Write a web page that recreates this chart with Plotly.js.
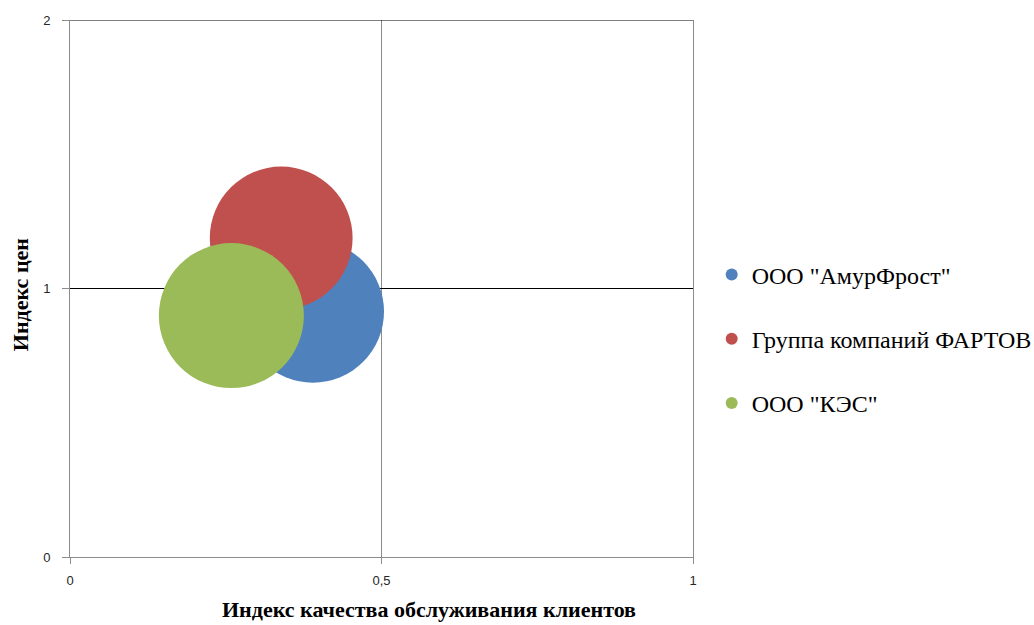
<!DOCTYPE html>
<html>
<head>
<meta charset="utf-8">
<script src="https://cdn.plot.ly/plotly-3.0.1.min.js"></script>
<style>html,body{margin:0;padding:0;background:#fff;}#chart{width:1034px;height:625px;}</style>
</head>
<body>
<div id="chart"></div>
<script>
const companies = ['ООО "АмурФрост"', 'Группа компаний ФАРТОВ', 'ООО "КЭС"'];
const serviceIndex = [0.39, 0.339, 0.259];
const priceIndex = [0.914, 1.188, 0.899];
const bubbleSize = [0.96, 0.97, 1.0];
const colors = ['#4F81BD', '#C0504D', '#9BBB59'];
const xTicks = [0, 0.5, 1];
const yTicks = [0, 1, 2];
const xTitle = 'Индекс качества обслуживания клиентов';
const yTitle = 'Индекс цен';

const maxDiameter = 145;
const maxSize = Math.max(...bubbleSize);
const sizeref = 2 * maxSize / (maxDiameter * maxDiameter);

const traces = companies.map((name, i) => ({
  type: 'scatter',
  mode: 'markers',
  name: name,
  legendgroup: 'g' + i,
  x: [serviceIndex[i]],
  y: [priceIndex[i]],
  marker: {
    size: [bubbleSize[i]],
    sizemode: 'area',
    sizeref: sizeref,
    color: colors[i],
    opacity: 1,
    line: {width: 0}
  },
  hoverinfo: 'name+x+y'
}));

const serif = '"Times New Roman", "Liberation Serif", serif';
const sans = '"Liberation Sans", Arial, sans-serif';

const layout = {
  width: 1034,
  height: 625,
  margin: {l: 70, r: 341, t: 20, b: 68, autoexpand: false},
  paper_bgcolor: '#ffffff',
  plot_bgcolor: '#ffffff',
  separators: ', ',
  font: {family: serif},
  showlegend: true,
  legend: {
    x: 1.03, xanchor: 'left',
    y: 0.406, yanchor: 'middle',
    font: {family: serif, size: 24, color: '#000'},
    itemsizing: 'constant',
    tracegroupgap: 30,
    bgcolor: 'rgba(0,0,0,0)'
  },
  shapes: [{
    type: 'line', xref: 'paper', yref: 'y',
    x0: 0, x1: 1,
    y0: yTicks[yTicks.length - 1], y1: yTicks[yTicks.length - 1],
    line: {color: '#000000', width: 1}
  }],
  annotations: [
    {text: xTitle, xref: 'paper', yref: 'paper', x: 0.576, y: -0.098,
     xanchor: 'center', yanchor: 'middle', showarrow: false,
     font: {family: serif, size: 22, color: '#000', weight: 'bold'}},
    {text: yTitle, xref: 'paper', yref: 'paper', x: -0.079, y: 0.489,
     xanchor: 'center', yanchor: 'middle', showarrow: false, textangle: -90,
     font: {family: serif, size: 22, color: '#000', weight: 'bold'}}
  ],
  xaxis: {
    range: [0, 1],
    tickvals: xTicks,
    ticktext: xTicks.map(v => String(v).replace('.', ',')),
    showgrid: true,
    gridcolor: '#8c8c8c',
    gridwidth: 1,
    zeroline: false,
    showline: true,
    linecolor: '#8c8c8c',
    linewidth: 1,
    ticks: 'outside',
    ticklen: 6,
    tickcolor: '#8c8c8c',
    ticklabelstandoff: 5,
    tickfont: {family: sans, size: 13, color: '#262626'}
  },
  yaxis: {
    range: [0, 2],
    tickvals: yTicks,
    ticktext: yTicks.map(v => String(v)),
    showgrid: true,
    gridcolor: '#000000',
    gridwidth: 1,
    zeroline: false,
    showline: true,
    mirror: true,
    linecolor: '#8c8c8c',
    linewidth: 1,
    ticks: 'outside',
    ticklen: 7,
    tickcolor: '#8c8c8c',
    ticklabelstandoff: 9,
    tickfont: {family: sans, size: 13, color: '#262626'}
  }
};

Plotly.newPlot('chart', traces, layout, {displayModeBar: false, staticPlot: true});
</script>
</body>
</html>
